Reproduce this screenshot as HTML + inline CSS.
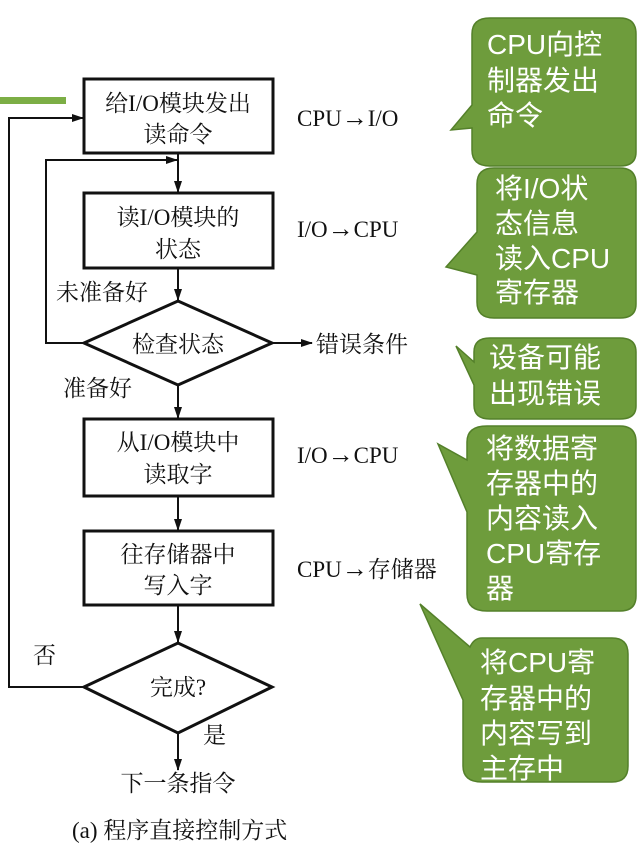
<!DOCTYPE html><html><head><meta charset="utf-8"><style>
body{margin:0;background:#fff;width:638px;height:849px;overflow:hidden}
svg text{font-family:"Liberation Serif","Noto Serif CJK SC",serif;font-size:23px;fill:#111}
.b{font-family:"Liberation Sans","Noto Sans CJK SC",sans-serif;font-size:28px;fill:#fff}
.ar{font-size:26px}
</style></head><body>
<svg width="638" height="849" viewBox="0 0 638 849">
<defs><marker id="a" markerWidth="12" markerHeight="8" refX="11" refY="4" orient="auto" markerUnits="userSpaceOnUse"><path d="M0,0 L12,4 L0,8 z" fill="#111"/></marker></defs>
<rect x="0" y="97" width="66" height="7" fill="#7cae45"/>
<g stroke="#111" stroke-width="3" fill="none">
<rect x="84" y="79" width="189" height="74"/>
<rect x="84" y="193" width="189" height="75"/>
<path d="M84,343 L178,301 L272,343 L178,385 Z"/>
<rect x="84" y="419" width="189" height="77"/>
<rect x="84" y="531" width="189" height="74"/>
<path d="M84,687 L178,643 L272,687 L178,733 Z"/>
</g>
<g stroke="#111" stroke-width="2" fill="none">
<line x1="178" y1="153" x2="178" y2="192" marker-end="url(#a)"/>
<line x1="178" y1="268" x2="178" y2="300" marker-end="url(#a)"/>
<line x1="178" y1="385" x2="178" y2="418" marker-end="url(#a)"/>
<line x1="178" y1="496" x2="178" y2="530" marker-end="url(#a)"/>
<line x1="178" y1="605" x2="178" y2="642" marker-end="url(#a)"/>
<line x1="178" y1="733" x2="178" y2="770" marker-end="url(#a)"/>
<polyline points="84,343 46,343 46,160 177,160" marker-end="url(#a)"/>
<polyline points="84,687 9,687 9,118 83,118" marker-end="url(#a)"/>
<line x1="272" y1="343" x2="312" y2="343" marker-end="url(#a)"/>
</g>
<text x="178" y="111" text-anchor="middle">给I/O模块发出</text>
<text x="178" y="142" text-anchor="middle">读命令</text>
<text x="178" y="225" text-anchor="middle">读I/O模块的</text>
<text x="178" y="257" text-anchor="middle">状态</text>
<text x="178" y="352" text-anchor="middle">检查状态</text>
<text x="178" y="450" text-anchor="middle">从I/O模块中</text>
<text x="178" y="482" text-anchor="middle">读取字</text>
<text x="178" y="562" text-anchor="middle">往存储器中</text>
<text x="178" y="593" text-anchor="middle">写入字</text>
<text x="178" y="695" text-anchor="middle">完成?</text>
<text x="178" y="791" text-anchor="middle">下一条指令</text>
<text x="72" y="838">(a) 程序直接控制方式</text>
<text x="297" y="126">CPU<tspan class="ar">→</tspan>I/O</text>
<text x="297" y="237">I/O<tspan class="ar">→</tspan>CPU</text>
<text x="297" y="463">I/O<tspan class="ar">→</tspan>CPU</text>
<text x="297" y="577">CPU<tspan class="ar">→</tspan>存储器</text>
<text x="316" y="352">错误条件</text>
<text x="56" y="300">未准备好</text>
<text x="63" y="396">准备好</text>
<text x="33" y="663">否</text>
<text x="203" y="743">是</text>
<g fill="#6e9c3c" stroke="#54802a" stroke-width="1.5">
<path d="M490,18 H620 Q636,18 636,34 V152 Q636,166 620,166 H490 Q472,166 472,150 V128 L451,130 L472,105 V34 Q472,18 490,18 Z"/>
<path d="M494,168 H620 Q636,168 636,184 V304 Q636,318 620,318 H494 Q477,318 477,302 V275 L446,267 L477,232 V184 Q477,168 494,168 Z"/>
<path d="M490,338 H620 Q636,338 636,352 V406 Q636,419 620,419 H490 Q474,419 474,405 V385 L456,346 L474,362 V352 Q474,338 490,338 Z"/>
<path d="M487,426 H620 Q636,426 636,442 V596 Q636,611 620,611 H487 Q467,611 467,594 V512 L438,444 L467,460 V442 Q467,426 487,426 Z"/>
<path d="M482,638 H612 Q628,638 628,654 V766 Q628,782 612,782 H482 Q463,782 463,766 V700 L420,604 L470,647 Q474,638 482,638 Z"/>
</g>
<text class="b" x="487" y="54">CPU向控</text>
<text class="b" x="487" y="90">制器发出</text>
<text class="b" x="487" y="125">命令</text>
<text class="b" x="495" y="198">将I/O状</text>
<text class="b" x="495" y="233">态信息</text>
<text class="b" x="495" y="268">读入CPU</text>
<text class="b" x="495" y="302">寄存器</text>
<text class="b" x="489" y="367">设备可能</text>
<text class="b" x="489" y="403">出现错误</text>
<text class="b" x="486" y="458">将数据寄</text>
<text class="b" x="486" y="493">存器中的</text>
<text class="b" x="486" y="528">内容读入</text>
<text class="b" x="486" y="563">CPU寄存</text>
<text class="b" x="486" y="598">器</text>
<text class="b" x="480" y="672">将CPU寄</text>
<text class="b" x="480" y="708">存器中的</text>
<text class="b" x="480" y="743">内容写到</text>
<text class="b" x="480" y="778">主存中</text>
</svg></body></html>
